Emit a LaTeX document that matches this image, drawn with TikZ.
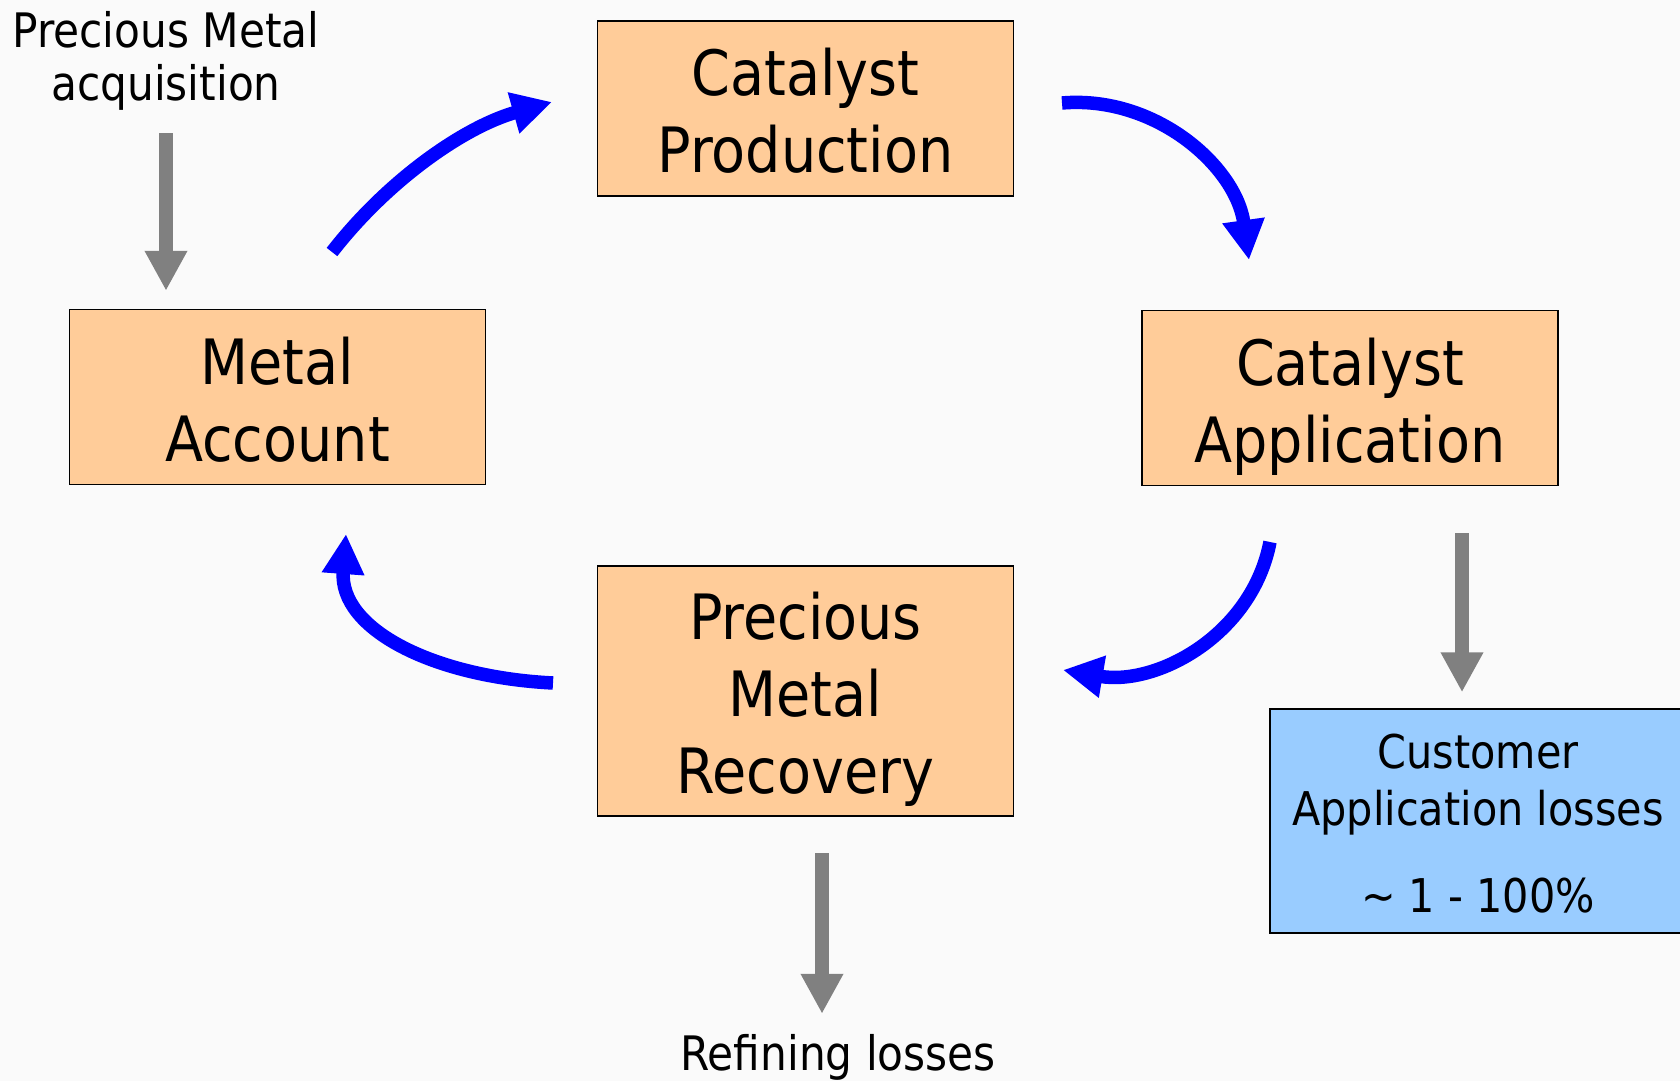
\documentclass[tikz,border=0pt]{standalone}
\usepackage{fontspec}
\setmainfont[FakeStretch=0.89]{DejaVu Sans}
\usetikzlibrary{arrows.meta}
\definecolor{bg}{HTML}{FAFAFA}
\definecolor{peach}{HTML}{FFCC99}
\definecolor{skyblue}{HTML}{99CCFF}
\definecolor{arrowgrey}{HTML}{808080}
\newcommand\bigline[1]{\rule{0pt}{51pt}\smash{#1}}
\newcommand\smline[1]{\rule{0pt}{38.5pt}\smash{#1}}
\tikzset{
  box/.style={draw=black, line width=1.5pt, fill=peach, minimum width=416pt,
    minimum height=175pt, inner sep=0pt, align=center,
    font=\fontsize{62.5}{77}\selectfont},
  custbox/.style={draw=black, line width=1.5pt, fill=skyblue, minimum width=416pt,
    minimum height=224pt, inner sep=0pt, align=center,
    font=\fontsize{46.5}{57}\selectfont},
  label/.style={inner sep=0pt, align=center, font=\fontsize{47.5}{53}\selectfont},
  bluearr/.style={draw=blue, line width=13.5pt,
    -{Triangle[width=40pt,length=40pt]}},
  greyarr/.style={draw=arrowgrey, line width=14pt,
    -{Triangle[width=40pt,length=40pt]}},
}
\begin{document}
\begin{tikzpicture}[x=1pt,y=-1pt]
\fill[bg] (0,0) rectangle (1680,1081);
\clip (0,0) rectangle (1680,1081);
% boxes
\node[box] (cp) at (805.5,108.5) {\bigline{Catalyst}\\\bigline{Production}};
\node[box] (ma) at (277.5,397) {\bigline{Metal}\\\bigline{Account}};
\node[box] (ca) at (1350,398) {\bigline{Catalyst}\\\bigline{Application}};
\node[box, minimum height=250pt] (pmr) at (805.5,691)
  {\bigline{Precious}\\\bigline{Metal}\\\bigline{Recovery}};
\node[custbox] (cust) at (1478,821)
  {\smline{Customer}\\\smline{Application losses}\\[30pt]\smline{\textasciitilde{} 1 - 100\%}};
% labels
\node[label] (acq) at (166,54.5) {\smline{Precious Metal}\\\smline{acquisition}};
\node[label] (ref) at (838,1051) {\smline{Refining losses}};
% blue cycle arrows
\coordinate (a1s) at (332,252);  \coordinate (a1e) at (552,102);
\coordinate (a2s) at (1062,103); \coordinate (a2e) at (1249,260);
\coordinate (a3s) at (1270,542); \coordinate (a3e) at (1063,670);
\coordinate (a4s) at (553,683);  \coordinate (a4e) at (346,534);
\draw[bluearr] (a1s) .. controls (388,180) and (464,127) .. (a1e);
\draw[bluearr] (a2s) .. controls (1156,95) and (1236,167) .. (a2e);
\draw[bluearr] (a3s) .. controls (1252,635) and (1157,686) .. (a3e);
\draw[bluearr] (a4s) .. controls (433,677) and (339,629) .. (a4e);
% grey loss / input arrows
\coordinate (g1s) at (166,133);
\draw[greyarr] (g1s) -- ([yshift=18pt]ma.north -| g1s);
\coordinate (g2s) at (1462,533);
\draw[greyarr] (g2s) -- ([yshift=16pt]cust.north -| g2s);
\coordinate (g3s) at (822,853);
\draw[greyarr] (g3s) -- ([yshift=-197pt]pmr.south -| g3s);
\end{tikzpicture}
\end{document}
